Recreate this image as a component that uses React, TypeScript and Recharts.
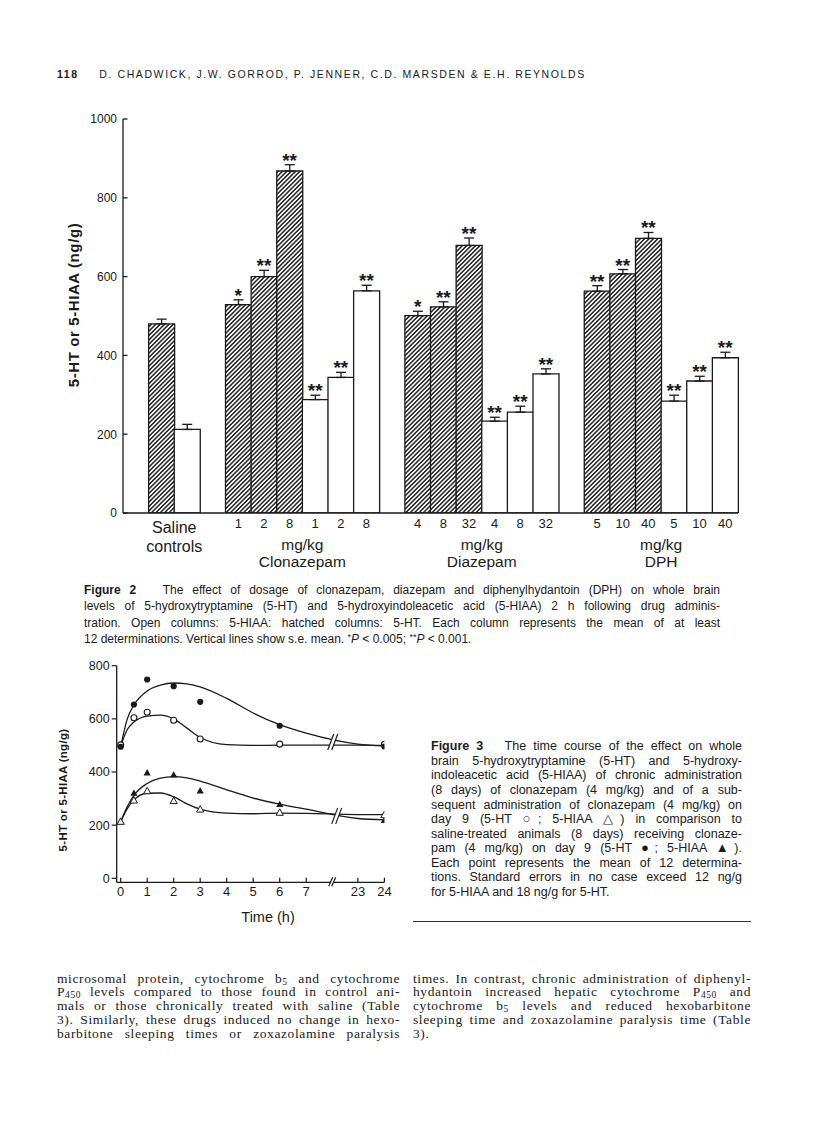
import React from 'react';
import { ComposedChart, Bar, Cell, ErrorBar, XAxis, YAxis, Line } from 'recharts';

const SANS = '"Liberation Sans", Arial, Helvetica, sans-serif';
const SERIF = '"Liberation Serif", "Times New Roman", serif';
const INK = '#1a1a1a';

// ---------------- Figure 2 data (ng/g) ----------------
const salineLabel = ['Saline', 'controls'];
const salineHT = 480;
const salineHTErr = 12;
const salineHIAA = 212;
const salineHIAAErr = 13;

const clonazepamDoses = ['1', '2', '8'];
const clonazepamHT = [529, 600, 868];
const clonazepamHTErr = [12, 16, 16];
const clonazepamHTSig = ['*', '**', '**'];
const clonazepamHIAA = [288, 344, 564];
const clonazepamHIAAErr = [11, 13, 14];
const clonazepamHIAASig = ['**', '**', '**'];

const diazepamDoses = ['4', '8', '32'];
const diazepamHT = [501, 523, 679];
const diazepamHTErr = [11, 13, 19];
const diazepamHTSig = ['*', '**', '**'];
const diazepamHIAA = [233, 256, 353];
const diazepamHIAAErr = [10, 15, 13];
const diazepamHIAASig = ['**', '**', '**'];

const dphDoses = ['5', '10', '40'];
const dphHT = [563, 607, 697];
const dphHTErr = [14, 11, 15];
const dphHTSig = ['**', '**', '**'];
const dphHIAA = [284, 335, 394];
const dphHIAAErr = [15, 12, 14];
const dphHIAASig = ['**', '**', '**'];

const fig2YTicks = [0, 200, 400, 600, 800, 1000];

// ---------------- Figure 3 data (ng/g) ----------------
const fig3Hours = [0, 0.5, 1, 2, 3, 6, 24];
const chronicHT = [502, 604, 625, 595, 524, 505, 504]; // open circles
const chronicHIAA = [213, 293, 328, 291, 259, 247, 238]; // open triangles
const salineHT9 = [495, 654, 748, 723, 664, 574, 496]; // filled circles
const salineHIAA9 = [213, 320, 397, 389, 329, 278, 218]; // filled triangles

// hand-drawn fitted curves
const curveHours = [0, 0.25, 0.5, 1, 1.5, 2, 2.5, 3, 4, 5, 6, 7, 23, 24];
const curveSalineHT = [495, 600, 652, 705, 727, 735, 732, 720, 677, 622, 578, 546, 505, 498];
const curveChronicHT = [498, 560, 588, 610, 614, 600, 565, 530, 503, 500, 501, 501, 501, 500];
const curveSalineHIAA = [213, 270, 312, 357, 377, 383, 378, 366, 333, 302, 279, 260, 225, 220];
const curveChronicHIAA = [213, 262, 295, 320, 321, 307, 280, 260, 245, 243, 245, 244, 240, 240];
const curveBreakValues = [513, 235];

const fig3YTicks = [0, 200, 400, 600, 800];
const fig3TickHours = [0, 1, 2, 3, 4, 5, 6, 7, 23, 24];

// ---------------- Figure 2 table ----------------
type Row = {
  key: string;
  dose: string;
  value: number | null;
  err?: number[];
  top?: number | null;
  sig?: string;
  hatched?: boolean;
  label?: string[];
};

const fig2Rows: Row[] = [];
let gapCount = 0;
const addGap = () => fig2Rows.push({ key: `gap${gapCount++}`, dose: '', value: null, top: null });
const addBar = (key: string, dose: string, value: number, err: number, sig: string, hatched: boolean, label?: string[]) =>
  fig2Rows.push({ key, dose, value, err: [0, err], top: sig ? value + err : null, sig, hatched, label });

const drugs = [
  { name: 'Clonazepam', doses: clonazepamDoses, ht: clonazepamHT, htErr: clonazepamHTErr, htSig: clonazepamHTSig, hiaa: clonazepamHIAA, hiaaErr: clonazepamHIAAErr, hiaaSig: clonazepamHIAASig },
  { name: 'Diazepam', doses: diazepamDoses, ht: diazepamHT, htErr: diazepamHTErr, htSig: diazepamHTSig, hiaa: diazepamHIAA, hiaaErr: diazepamHIAAErr, hiaaSig: diazepamHIAASig },
  { name: 'DPH', doses: dphDoses, ht: dphHT, htErr: dphHTErr, htSig: dphHTSig, hiaa: dphHIAA, hiaaErr: dphHIAAErr, hiaaSig: dphHIAASig },
];

addGap();
addBar('saline-5HT', '', salineHT, salineHTErr, '', true, salineLabel);
addBar('saline-5HIAA', '', salineHIAA, salineHIAAErr, '', false);
drugs.forEach((d) => {
  addGap();
  d.doses.forEach((dose, i) => addBar(`${d.name}-5HT-${dose}`, dose, d.ht[i], d.htErr[i], d.htSig[i], true, i === d.doses.length - 1 ? ['mg/kg', d.name] : undefined));
  d.doses.forEach((dose, i) => addBar(`${d.name}-5HIAA-${dose}`, dose, d.hiaa[i], d.hiaaErr[i], d.hiaaSig[i], false));
});

// ---------------- Figure 3 helpers ----------------
const BREAK_POS = 8.0; // axis position of the // break between 7 h and 23 h
const axisPos = (h: number) => (h <= 7 ? h : h - 14.05);
const toPoints = (hours: number[], vals: number[]) => hours.map((h, i) => ({ pos: axisPos(h), y: vals[i] }));
const fig3Ticks = [...fig3TickHours.map(axisPos), BREAK_POS].sort((a, b) => a - b);
const breakPoints = [
  { pos: BREAK_POS, y: curveBreakValues[0] },
  { pos: BREAK_POS + 0.15, y: curveBreakValues[1] },
];

// ---------------- geometry ----------------
const F2 = { w: 816, h: 600, top: 119, left: 73, right: 78, bottom: 27, yW: 50, xH: 60 };
const F2_PLOT_W = F2.w - F2.left - F2.right - F2.yW;
const BAND = F2_PLOT_W / fig2Rows.length;

const F3 = { w: 420, h: 300, top: 25.7, left: 71.7, right: 35.6, bottom: 27.7, yW: 45, xH: 30 };

// ---------------- components ----------------
const AxisTitle = (props: any) => {
  const { viewBox, text, dx = 0, dy = 0, size = 14, weight = 'normal', spacing = 0 } = props;
  if (!viewBox) return null;
  const cx = viewBox.x + dx;
  const cy = viewBox.y + viewBox.height / 2 + dy;
  return (
    <text x={cx} y={cy} transform={`rotate(-90, ${cx}, ${cy})`} textAnchor="middle" dominantBaseline="central"
      fontSize={size} fontWeight={weight} letterSpacing={spacing} fontFamily={SANS} fill={INK}>
      {text}
    </text>
  );
};

const XTitle = (props: any) => {
  const { viewBox, text, dx = 0, dy = 0, size = 14 } = props;
  if (!viewBox) return null;
  return (
    <text x={viewBox.x + viewBox.width / 2 + dx} y={viewBox.y + dy} textAnchor="middle" fontSize={size} fontFamily={SANS} fill={INK}>
      {text}
    </text>
  );
};

const Fig2YTick = (props: any) => {
  const { x, y, payload } = props;
  return (
    <g>
      <text x={x} y={y} dy="0.36em" textAnchor="end" fontSize={12} fontFamily={SANS} fill={INK}>{payload.value}</text>
      <line x1={x + 6} x2={x + 10.5} y1={y} y2={y} stroke={INK} strokeWidth={1.3} />
    </g>
  );
};

const Fig2XTick = (props: any) => {
  const { x, y, payload } = props;
  const row = fig2Rows.find((r) => r.key === payload.value);
  if (!row) return null;
  const cx = x + BAND / 2;
  const isSaline = !!row.label && row.label[0] === salineLabel[0];
  return (
    <g>
      {row.dose ? (
        <text x={x} y={y + 15} textAnchor="middle" fontSize={13} fontFamily={SANS} fill={INK}>{row.dose}</text>
      ) : null}
      {row.label ? (
        <g>
          <text x={cx} y={y + (isSaline ? 20 : 37)} textAnchor="middle" fontSize={isSaline ? 16 : 15.5} fontFamily={SANS} fill={INK}>{row.label[0]}</text>
          <text x={cx} y={y + (isSaline ? 39 : 54)} textAnchor="middle" fontSize={isSaline ? 16 : 15.5} fontFamily={SANS} fill={INK}>{row.label[1]}</text>
        </g>
      ) : null}
    </g>
  );
};

const SigMark = (p: any) => {
  const { cx, cy, payload, index } = p;
  if (!payload || !payload.sig || cy == null || isNaN(cy)) return <g key={`sig-${index}`} />;
  return (
    <text key={`sig-${index}`} x={cx} y={cy + 2} textAnchor="middle" fontSize={19} fontWeight="bold" fontFamily={SANS} fill={INK}>
      {payload.sig}
    </text>
  );
};

const Fig3XTick = (props: any) => {
  const { x, y, payload } = props;
  const v = payload.value;
  if (Math.abs(v - BREAK_POS) < 1e-6) {
    return (
      <g>
        <polygon points={`${x - 4},${y + 4} ${x},${y - 5} ${x + 3},${y - 5} ${x - 1},${y + 4}`} fill="#fff" />
        <line x1={x - 4} y1={y + 4} x2={x} y2={y - 5} stroke={INK} strokeWidth={1.2} />
        <line x1={x - 1} y1={y + 4} x2={x + 3} y2={y - 5} stroke={INK} strokeWidth={1.2} />
      </g>
    );
  }
  const idx = fig3TickHours.findIndex((h) => Math.abs(axisPos(h) - v) < 1e-6);
  return (
    <g>
      <line x1={x} x2={x} y1={y} y2={y - 4.5} stroke={INK} strokeWidth={1.2} />
      <text x={x} y={y + 13.5} textAnchor="middle" fontSize={13} fontFamily={SANS} fill={INK}>{idx >= 0 ? fig3TickHours[idx] : ''}</text>
    </g>
  );
};

const mk = (render: (cx: number, cy: number) => React.ReactNode, name: string) => (p: any) => {
  const { cx, cy, index } = p;
  if (cx == null || cy == null || isNaN(cy)) return <g key={`${name}-${index}`} />;
  return <g key={`${name}-${index}`}>{render(cx, cy)}</g>;
};
const FilledCircle = mk((cx, cy) => <circle cx={cx} cy={cy} r={3.1} fill={INK} />, 'fc');
const OpenCircle = mk((cx, cy) => <circle cx={cx} cy={cy} r={3} fill="#fff" stroke={INK} strokeWidth={1.1} />, 'oc');
const FilledTriangle = mk((cx, cy) => (
  <polygon points={`${cx},${cy - 3.8} ${cx - 3.6},${cy + 2.6} ${cx + 3.6},${cy + 2.6}`} fill={INK} />
), 'ft');
const OpenTriangle = mk((cx, cy) => (
  <polygon points={`${cx},${cy - 3.8} ${cx - 3.6},${cy + 2.6} ${cx + 3.6},${cy + 2.6}`} fill="#fff" stroke={INK} strokeWidth={1} />
), 'ot');
const CurveBreak = mk((cx, cy) => (
  <g>
    <polygon points={`${cx - 5},${cy + 8} ${cx + 1},${cy - 8} ${cx + 5},${cy - 8} ${cx - 1},${cy + 8}`} fill="#fff" />
    <line x1={cx - 5} y1={cy + 8} x2={cx + 1} y2={cy - 8} stroke={INK} strokeWidth={1.2} />
    <line x1={cx - 1} y1={cy + 8} x2={cx + 5} y2={cy - 8} stroke={INK} strokeWidth={1.2} />
  </g>
), 'br');

const Figure2Chart = () => (
  <ComposedChart width={F2.w} height={F2.h} data={fig2Rows} barCategoryGap={0} barGap={0}
    margin={{ top: F2.top, left: F2.left, right: F2.right, bottom: F2.bottom }} style={{ fontFamily: SANS }}>
    <defs>
      <pattern id="hatch" patternUnits="userSpaceOnUse" width={3.1} height={3.1} patternTransform="rotate(45)">
        <rect x={0} y={0} width={3.1} height={3.1} fill="#fff" />
        <line x1={1.55} y1={-1} x2={1.55} y2={4.1} stroke={INK} strokeWidth={1.45} />
      </pattern>
    </defs>
    <XAxis dataKey="key" type="category" interval={0} tickLine={false} tickSize={0} tickMargin={0} height={F2.xH}
      axisLine={{ stroke: INK, strokeWidth: 1.3 }} tick={<Fig2XTick />} />
    <YAxis type="number" domain={[0, 1000]} allowDataOverflow ticks={fig2YTicks} interval={0} width={F2.yW}
      tickLine={false} tickSize={0} tickMargin={6} axisLine={{ stroke: INK, strokeWidth: 1.3 }} tick={<Fig2YTick />}
      label={<AxisTitle text="5-HT or 5-HIAA (ng/g)" dx={0} dy={-11} size={15} weight="bold" spacing={0.6} />} />
    <Bar dataKey="value" stroke={INK} strokeWidth={1.3} isAnimationActive={false}>
      {fig2Rows.map((r) => (
        <Cell key={r.key} fill={r.hatched ? 'url(#hatch)' : '#fff'} />
      ))}
      <ErrorBar dataKey="err" width={5} stroke={INK} strokeWidth={1.3} direction="y" />
    </Bar>
    <Line dataKey="top" stroke="none" dot={SigMark} activeDot={false} isAnimationActive={false} legendType="none" />
  </ComposedChart>
);

const Figure3Chart = () => (
  <ComposedChart width={F3.w} height={F3.h}
    margin={{ top: F3.top, left: F3.left, right: F3.right, bottom: F3.bottom }} style={{ fontFamily: SANS }}>
    <XAxis dataKey="pos" type="number" domain={[-0.15, 9.95]} allowDataOverflow ticks={fig3Ticks} interval={0}
      tickLine={false} tickSize={0} tickMargin={0} height={F3.xH} axisLine={{ stroke: INK, strokeWidth: 1.3 }}
      tick={<Fig3XTick />} label={<XTitle text="Time (h)" dx={17.5} dy={40} size={14.5} />} />
    <YAxis dataKey="y" type="number" domain={[-15, 800]} allowDataOverflow ticks={fig3YTicks} interval={0} width={F3.yW}
      tickSize={5} tickMargin={2} tickLine={{ stroke: INK, strokeWidth: 1.2 }} axisLine={{ stroke: INK, strokeWidth: 1.3 }}
      tick={{ fontSize: 12.5, fill: INK, fontFamily: SANS }}
      label={<AxisTitle text="5-HT or 5-HIAA (ng/g)" dx={-8.4} dy={16} size={11.5} weight="bold" spacing={0.3} />} />
    <Line data={toPoints(curveHours, curveSalineHT)} dataKey="y" type="monotone" stroke={INK} strokeWidth={1.3} dot={false} activeDot={false} isAnimationActive={false} />
    <Line data={toPoints(curveHours, curveChronicHT)} dataKey="y" type="monotone" stroke={INK} strokeWidth={1.3} dot={false} activeDot={false} isAnimationActive={false} />
    <Line data={toPoints(curveHours, curveSalineHIAA)} dataKey="y" type="monotone" stroke={INK} strokeWidth={1.3} dot={false} activeDot={false} isAnimationActive={false} />
    <Line data={toPoints(curveHours, curveChronicHIAA)} dataKey="y" type="monotone" stroke={INK} strokeWidth={1.3} dot={false} activeDot={false} isAnimationActive={false} />
    <Line data={breakPoints} dataKey="y" stroke="none" dot={CurveBreak} activeDot={false} isAnimationActive={false} />
    <Line data={toPoints(fig3Hours, chronicHT)} dataKey="y" stroke="none" dot={OpenCircle} activeDot={false} isAnimationActive={false} />
    <Line data={toPoints(fig3Hours, salineHT9)} dataKey="y" stroke="none" dot={FilledCircle} activeDot={false} isAnimationActive={false} />
    <Line data={toPoints(fig3Hours, salineHIAA9)} dataKey="y" stroke="none" dot={FilledTriangle} activeDot={false} isAnimationActive={false} />
    <Line data={toPoints(fig3Hours, chronicHIAA)} dataKey="y" stroke="none" dot={OpenTriangle} activeDot={false} isAnimationActive={false} />
  </ComposedChart>
);

const J: React.CSSProperties = { textAlign: 'justify', textAlignLast: 'justify', height: '14.55px' };
const L: React.CSSProperties = { textAlign: 'left' };
const Sub = ({ children }: any) => (
  <span style={{ fontSize: '0.7em', verticalAlign: '-0.2em', lineHeight: 0 }}>{children}</span>
);
const Sup = ({ children }: any) => (
  <span style={{ fontSize: '0.75em', verticalAlign: '0.3em', lineHeight: 0 }}>{children}</span>
);
const Sym = ({ children }: any) => (
  <span style={{ fontSize: '1.05em', lineHeight: 0 }}>{children}</span>
);

const bodyCol: React.CSSProperties = { position: 'absolute', top: 971.6, fontFamily: SERIF, fontSize: 13.5, lineHeight: '13.8px', letterSpacing: 0.6 };
const JB: React.CSSProperties = { textAlign: 'justify', textAlignLast: 'justify' };
const JC: React.CSSProperties = { textAlign: 'justify', textAlignLast: 'justify', height: '16.5px' };

export default function App() {
  return (
    <div style={{ position: 'absolute', left: 0, top: 0, width: 816, height: 1134, background: '#fff', overflow: 'hidden', color: INK, fontFamily: SANS }}>
      {/* running head */}
      <div style={{ position: 'absolute', left: 57, top: 68, fontSize: 10.5, lineHeight: '12px', letterSpacing: 1.6, whiteSpace: 'nowrap' }}>
        <span style={{ fontWeight: 'bold' }}>118</span>
        <span style={{ marginLeft: 20.5 }}>D. CHADWICK, J.W. GORROD, P. JENNER, C.D. MARSDEN &amp; E.H. REYNOLDS</span>
      </div>

      <div style={{ position: 'absolute', left: 0, top: 0 }}>
        <Figure2Chart />
      </div>

      {/* Figure 2 caption */}
      <div style={{ position: 'absolute', left: 84, top: 581.5, width: 636, fontSize: 12, lineHeight: '16.5px' }}>
        <div style={JC}><b>Figure 2</b>&nbsp;&nbsp; The effect of dosage of clonazepam, diazepam and diphenylhydantoin (DPH) on whole brain</div>
        <div style={JC}>levels of 5-hydroxytryptamine (5-HT) and 5-hydroxyindoleacetic acid (5-HIAA) 2 h following drug adminis-</div>
        <div style={JC}>tration. Open columns: 5-HIAA: hatched columns: 5-HT. Each column represents the mean of at least</div>
        <div style={L}>12 determinations. Vertical lines show s.e. mean. <Sup>*</Sup><i>P</i> &lt; 0.005; <Sup>**</Sup><i>P</i> &lt; 0.001.</div>
      </div>

      <div style={{ position: 'absolute', left: 0, top: 640 }}>
        <Figure3Chart />
      </div>

      {/* Figure 3 caption */}
      <div style={{ position: 'absolute', left: 431, top: 739.4, width: 311, fontSize: 12.5, lineHeight: '14.55px' }}>
        <div style={J}><b>Figure 3</b>&nbsp;&nbsp; The time course of the effect on whole</div>
        <div style={J}>brain 5-hydroxytryptamine (5-HT) and 5-hydroxy-</div>
        <div style={J}>indoleacetic acid (5-HIAA) of chronic administration</div>
        <div style={J}>(8 days) of clonazepam (4 mg/kg) and of a sub-</div>
        <div style={J}>sequent administration of clonazepam (4 mg/kg) on</div>
        <div style={J}>day 9 (5-HT <Sym>○</Sym>; 5-HIAA <Sym>△</Sym>) in comparison to</div>
        <div style={J}>saline-treated animals (8 days) receiving clonaze-</div>
        <div style={J}>pam (4 mg/kg) on day 9 (5-HT <Sym>●</Sym>; 5-HIAA <Sym>▲</Sym>).</div>
        <div style={J}>Each point represents the mean of 12 determina-</div>
        <div style={J}>tions. Standard errors in no case exceed 12 ng/g</div>
        <div style={L}>for 5-HIAA and 18 ng/g for 5-HT.</div>
      </div>

      <div style={{ position: 'absolute', left: 413, top: 921, width: 338, height: 1, background: '#333' }} />

      {/* body text */}
      <div style={{ ...bodyCol, left: 57, width: 343 }}>
        <div style={JB}>microsomal protein, cytochrome b<Sub>5</Sub> and cytochrome</div>
        <div style={JB}>P<Sub>450</Sub> levels compared to those found in control ani-</div>
        <div style={JB}>mals or those chronically treated with saline (Table</div>
        <div style={JB}>3). Similarly, these drugs induced no change in hexo-</div>
        <div style={JB}>barbitone sleeping times or zoxazolamine paralysis</div>
      </div>
      <div style={{ ...bodyCol, left: 413, width: 338 }}>
        <div style={JB}>times. In contrast, chronic administration of diphenyl-</div>
        <div style={JB}>hydantoin increased hepatic cytochrome P<Sub>450</Sub> and</div>
        <div style={JB}>cytochrome b<Sub>5</Sub> levels and reduced hexobarbitone</div>
        <div style={JB}>sleeping time and zoxazolamine paralysis time (Table</div>
        <div style={L}>3).</div>
      </div>
    </div>
  );
}
